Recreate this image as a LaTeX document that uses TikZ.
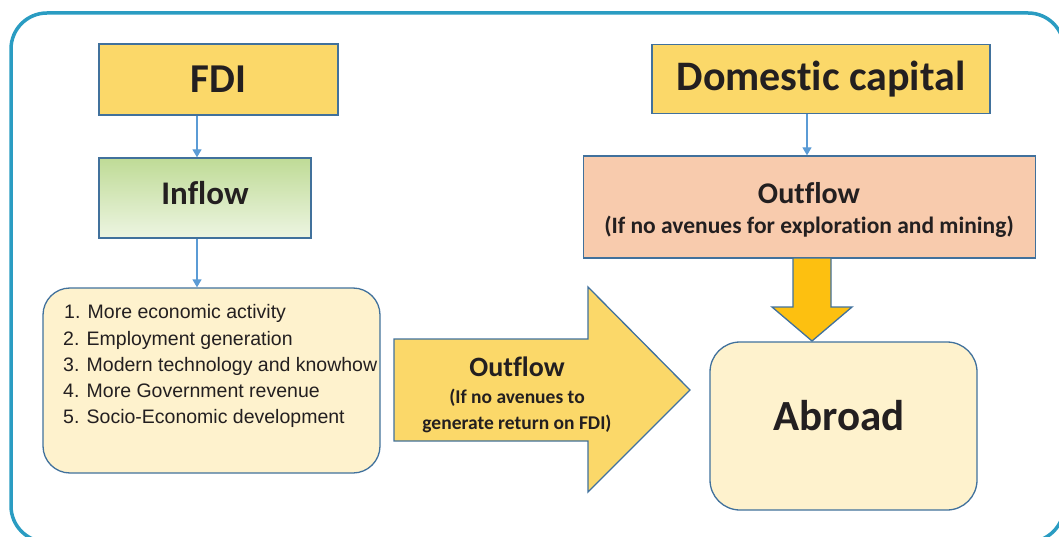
\documentclass[tikz,border=0pt]{standalone}
\usepackage{fontspec}
\setmainfont{Carlito}[Ligatures=NoCommon]
\newfontfamily\listfont{Liberation Sans}
\usetikzlibrary{arrows.meta}
\definecolor{frame}{HTML}{2A9CC2}
\definecolor{edge}{HTML}{41719C}
\definecolor{conn}{HTML}{5B9BD5}
\definecolor{gold}{HTML}{FBD869}
\definecolor{deepgold}{HTML}{FDC010}
\definecolor{cream}{HTML}{FEF2CD}
\definecolor{peach}{HTML}{F8CBAD}
\definecolor{greentop}{HTML}{BFDB96}
\definecolor{greenbot}{HTML}{EDF5E2}
\definecolor{ink}{HTML}{231F20}
\tikzset{
  box/.style={draw=edge, line width=1.3pt, inner sep=0pt, text=ink, font=\bfseries},
  conarrow/.style={draw=conn, line width=1.3pt, -{Triangle[length=8pt,width=9pt]}},
  blockarrow/.style={draw=edge, line width=1.3pt, line join=miter},
  listline/.style={anchor=base west, inner sep=0pt, text=ink, font=\listfont\fontsize{19.5}{22}\selectfont},
}
\begin{document}
\begin{tikzpicture}[x=1pt,y=-1pt]
\useasboundingbox (0,0) rectangle (1059,537);
% outer frame
\draw[frame, line width=3.5pt, rounded corners=36pt] (11,13) rectangle (1064,542);

% FDI
\node[box, fill=gold, minimum width=239pt, minimum height=71pt, font=\bfseries\fontsize{41}{45}\selectfont] (fdi) at (218.5,79.5) {FDI};
% Inflow
\node[box, top color=greentop, bottom color=greenbot, minimum width=212pt, minimum height=80pt, font=\bfseries\fontsize{33}{36}\selectfont] (inflow) at (205,198) {\raisebox{10pt}{Inflow}};
% list box
\node[box, fill=cream, rounded corners=27pt, minimum width=337pt, minimum height=185pt] (list) at (211.5,380.5) {};
\node[listline] (l1) at (64,318) {1. More economic activity};
\node[listline] (l2) at (63,345) {2. Employment generation};
\node[listline] (l3) at (63,371) {3. Modern technology and knowhow};
\node[listline] (l4) at (63,397) {4. More Government revenue};
\node[listline] (l5) at (63,423) {5. Socio-Economic development};

\draw[conarrow] (fdi.south -| 197,0) -- (inflow.north -| 197,0);
\draw[conarrow] (inflow.south -| 197,0) -- (list.north -| 197,0);

% big right arrow
\draw[blockarrow, fill=gold] (394,339) -- (588,339) -- (588,287) -- (690,390) -- (588,492) -- (588,441) -- (394,441) -- cycle;
\node[text=ink, font=\bfseries\fontsize{28}{30}\selectfont, inner sep=0pt] (outA) at (517,367) {Outflow};
\node[text=ink, font=\bfseries\fontsize{19.5}{26}\selectfont, align=center, inner sep=0pt] (outAsub) at (517,411) {(If no avenues to\\generate return on FDI)};

% Domestic capital
\node[box, fill=gold, minimum width=338pt, minimum height=69pt, font=\bfseries\fontsize{42}{45}\selectfont] (dom) at (821,79) {\raisebox{1pt}{Domestic capital}};
% Outflow right
\node[box, fill=peach, minimum width=452pt, minimum height=102pt, align=center] (outB) at (809.5,207) {};
\node[text=ink, font=\bfseries\fontsize{30}{32}\selectfont, inner sep=0pt] (outBt) at (809,193) {Outflow};
\node[text=ink, font=\bfseries\fontsize{23.5}{26}\selectfont, inner sep=0pt] (outBs) at (809,227) {(If no avenues for exploration and mining)};
\draw[conarrow] (dom.south -| 807,0) -- (outB.north -| 807,0);

% Abroad
\node[box, fill=cream, rounded corners=30pt, minimum width=267pt, minimum height=168pt] (abroad) at (843.5,426) {};
\node[text=ink, font=\bfseries\fontsize{43}{46}\selectfont, inner sep=0pt] (abroadt) at (839,416) {Abroad};

% down block arrow
\draw[blockarrow, fill=deepgold] (793,258) -- (831,258) -- (831,307) -- (852,307) -- (812,341) -- (772,307) -- (793,307) -- cycle;
\end{tikzpicture}
\end{document}
